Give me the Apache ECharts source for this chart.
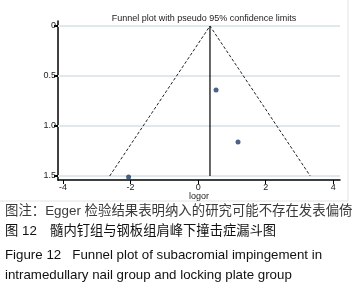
<!DOCTYPE html>
<html>
<head>
<meta charset="utf-8">
<script src="https://cdn.jsdelivr.net/npm/echarts@6/dist/echarts.min.js"></script>
<style>
html,body{margin:0;padding:0;background:#fff;}
#main{width:359px;height:288px;}
</style>
</head>
<body>
<div id="main"></div>
<script>
// studies: logor, se
var studyX = [0.53, 1.18, -2.06];
var studyY = [0.64, 1.16, 1.51];
// pooled estimate and pseudo 95% limits at se = 1.5
var pooled = 0.35;
var limitX = [-2.62, 0.35, 3.32];
var limitY = [1.5, 0, 1.5];
var yTicks = [0, 0.5, 1.0, 1.5];
var yTickLabels = ['0', '0.5', '1.0', '1.5'];
var xTicks = [-4, -2, 0, 2, 4];
var captions = [
    '图注：Egger 检验结果表明纳入的研究可能不存在发表偏倚',
    '图 12　髓内钉组与钢板组肩峰下撞击症漏斗图',
    'Figure 12   Funnel plot of subacromial impingement in',
    'intramedullary nail group and locking plate group'
];

var myChart = echarts.init(document.getElementById('main'));

var xMin = -4.15, xMax = 4.2;
var points = studyX.map(function (x, i) { return [x, studyY[i]]; });
var funnel = limitX.map(function (x, i) { return [x, limitY[i]]; });

var font = '"Liberation Sans", Arial, sans-serif';

// horizontal grid lines at the y ticks
var gridSeries = yTicks.map(function (v) {
    return {
        type: 'line', data: [[xMin, v], [xMax, v]], symbol: 'none', silent: true,
        showSymbol: false, clip: false,
        lineStyle: { color: '#dfe8ec', width: 2, opacity: 1 }, z: 1
    };
});

var option = {
    animation: false,
    backgroundColor: '#fff',
    title: {
        text: 'Funnel plot with pseudo 95% confidence limits',
        left: 199, top: 9, textAlign: 'center',
        textStyle: { fontSize: 9, fontWeight: 'normal', color: '#222', fontFamily: font }
    },
    grid: { left: 58, right: 19, top: 21, bottom: 108 },
    xAxis: {
        type: 'value', min: xMin, max: xMax,
        name: 'logor', nameLocation: 'middle', nameGap: 12, nameMoveOverlap: false,
        nameTextStyle: { fontSize: 9, color: '#222', fontFamily: font },
        axisLine: { onZero: false, lineStyle: { color: '#000', width: 1.5 } },
        axisTick: { show: true, length: 4, lineStyle: { color: '#000', width: 1 }, customValues: xTicks },
        axisLabel: { fontSize: 9, color: '#222', margin: 3, fontFamily: font, customValues: xTicks },
        splitLine: { show: false }
    },
    yAxis: {
        type: 'value', inverse: true, min: -0.05, max: 1.54,
        axisLine: { onZero: false, show: true, lineStyle: { color: '#000', width: 1.5 } },
        axisTick: { show: true, length: 4, lineStyle: { color: '#000', width: 2 }, customValues: yTicks },
        axisLabel: {
            fontSize: 9, color: '#222', margin: 2, fontFamily: font, customValues: yTicks,
            formatter: function (v) {
                var k = yTicks.indexOf(v);
                return k >= 0 ? yTickLabels[k] : '';
            }
        },
        splitLine: { show: false }
    },
    series: gridSeries.concat([
        {
            type: 'line', data: funnel, symbol: 'none', silent: true,
            lineStyle: { color: '#222', width: 1, type: [3, 2] }, z: 3
        },
        {
            type: 'line', data: [[pooled, 0], [pooled, 1.5]], symbol: 'none', silent: true,
            lineStyle: { color: '#000', width: 1.2 }, z: 4
        },
        {
            type: 'scatter', data: points, symbolSize: 5,
            itemStyle: { color: '#1e3d66' }, z: 5
        }
    ]),
    graphic: [
        {
            type: 'polyline', silent: true,
            shape: { points: [[348, 0], [348, 201], [0, 201]] },
            style: { stroke: '#e4e4e4', fill: null, lineWidth: 1 }
        }
    ].concat(captions.map(function (t, i) {
        var ys = [213, 233, 257, 277];
        return {
            type: 'text', left: 5, top: ys[i] - 8,
            style: {
                text: t, fill: i == 0 ? '#3a3a3a' : '#111',
                font: (i == 0 ? '13.4px' : '13.3px') + ' "Liberation Sans", "Noto Sans CJK SC", sans-serif'
            }
        };
    }))
};

myChart.setOption(option);
</script>
</body>
</html>
